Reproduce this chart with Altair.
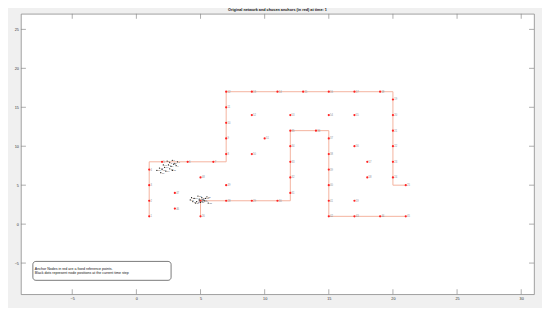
import altair as alt
import pandas as pd

title_text = "Original network and chosen anchors (in red) at time: 1"
note_lines = ["Anchor Nodes in red are a fixed reference points.",
              "Black dots represent node positions at the current time step"]

x_ticks = [-5, 0, 5, 10, 15, 20, 25, 30]
y_ticks = [-5, 0, 5, 10, 15, 20, 25]

# network corridors (polylines)
path1_x = [1, 1, 7, 7, 20, 20, 21]
path1_y = [1, 8, 8, 17, 17, 5, 5]
path2_x = [5, 5, 12, 12, 15, 15, 21]
path2_y = [1, 3, 3, 12, 12, 1, 1]

# anchor nodes (red)
anchor_x = [1, 1, 1, 1, 2, 4, 6, 7, 7, 7, 7, 7, 9, 11, 13, 15, 17, 19, 20, 20, 20, 20, 20, 20, 21,
            5, 5, 7, 9, 11, 12, 12, 12, 12, 12, 14, 15, 15, 15, 15, 15, 15, 17, 19, 21,
            3, 3, 5, 7, 9, 10, 9, 12, 15, 17, 17, 18, 18, 17]
anchor_y = [1, 3, 5, 7, 8, 8, 8, 9, 11, 13, 15, 17, 17, 17, 17, 17, 17, 17, 16, 14, 12, 10, 8, 6, 5,
            1, 3, 3, 3, 3, 4, 6, 8, 10, 12, 12, 11, 9, 7, 5, 3, 1, 1, 1, 1,
            2, 4, 6, 5, 9, 11, 14, 14, 14, 14, 10, 8, 6, 3]

# current node positions (black dots)
dots_x = [2.4, 2.6, 2.8, 3.0, 3.2, 2.5, 2.7, 2.9, 3.1, 2.2, 2.0, 1.8, 1.6, 2.3, 2.6, 1.9, 2.1, 2.8,
          4.2, 4.5, 4.7, 4.9, 5.1, 5.3, 5.5, 4.6, 4.8, 5.0, 5.2, 4.4, 5.4, 4.9, 5.6, 4.3]
dots_y = [8.1, 7.9, 8.2, 7.8, 8.0, 7.6, 7.4, 7.7, 7.5, 7.3, 7.0, 7.2, 6.9, 6.8, 7.1, 6.6, 7.6, 6.9,
          3.1, 3.3, 2.9, 3.2, 3.4, 3.0, 3.5, 2.7, 3.6, 2.8, 3.1, 2.9, 3.3, 3.0, 2.7, 3.4]

W, H = 516, 282
FONT = "Liberation Sans"
AX = "#8a8a8a"

xscale = alt.Scale(domain=[-9, 31], nice=False, zero=False)
yscale = alt.Scale(domain=[-9, 27], nice=False, zero=False)
xaxis = alt.Axis(values=x_ticks, title=None, grid=False, domain=False, ticks=False, tickSize=0,
                 labelFontSize=3.8, labelColor="#333333", labelPadding=2, labelFont=FONT)
yaxis = alt.Axis(values=y_ticks, title=None, grid=False, domain=False, ticks=False, tickSize=0,
                 labelFontSize=3.8, labelColor="#333333", labelPadding=2.5, labelFont=FONT)


def X(f):
    return alt.X(f, type="quantitative", scale=xscale, axis=xaxis)


def Y(f):
    return alt.Y(f, type="quantitative", scale=yscale, axis=yaxis)


paths = pd.DataFrame({
    "x": path1_x + path2_x,
    "y": path1_y + path2_y,
    "p": [1] * len(path1_x) + [2] * len(path2_x),
    "o": list(range(len(path1_x))) + list(range(len(path2_x))),
})
anchors = pd.DataFrame({"x": anchor_x, "y": anchor_y,
                        "id": [str(i + 1) for i in range(len(anchor_x))]})
dots = pd.DataFrame({"x": dots_x, "y": dots_y,
                     "id": [str(i + 1) for i in range(len(dots_x))]})
xt = pd.DataFrame({"x": x_ticks})
yt = pd.DataFrame({"y": y_ticks})

lines = alt.Chart(paths).mark_line(color="#f4b29e", strokeWidth=1).encode(
    x=X("x"), y=Y("y"), detail="p:N", order="o:Q")

anchor_pts = alt.Chart(anchors).mark_point(filled=True, shape="circle", size=5,
                                           color="#ff2222", opacity=1).encode(x=X("x"), y=Y("y"))
anchor_lbl = alt.Chart(anchors).mark_text(fontSize=2.6, color="#8a8f99", align="left",
                                          baseline="middle", dx=1.3, font=FONT).encode(
    x=X("x"), y=Y("y"), text="id:N")

dot_pts = alt.Chart(dots).mark_point(filled=True, shape="circle", size=1.6,
                                     color="#111111", opacity=1).encode(x=X("x"), y=Y("y"))
dot_lbl = alt.Chart(dots).mark_text(fontSize=2.4, color="#555555", align="left",
                                    baseline="middle", dx=1, font=FONT).encode(
    x=X("x"), y=Y("y"), text="id:N")

tb = alt.Chart(xt).mark_rule(color=AX, strokeWidth=0.7).encode(
    x=X("x"), y=alt.value(H), y2=alt.value(H - 5))
tt = alt.Chart(xt).mark_rule(color=AX, strokeWidth=0.7).encode(
    x=X("x"), y=alt.value(0), y2=alt.value(5))
tl = alt.Chart(yt).mark_rule(color=AX, strokeWidth=0.7).encode(
    y=Y("y"), x=alt.value(0), x2=alt.value(5))
tr = alt.Chart(yt).mark_rule(color=AX, strokeWidth=0.7).encode(
    y=Y("y"), x=alt.value(W), x2=alt.value(W - 5))

one = pd.DataFrame({"a": [0]})
box = alt.Chart(one).mark_rect(fill="white", stroke="#222222", strokeWidth=0.6,
                               cornerRadius=3).encode(
    x=alt.value(12), x2=alt.value(151), y=alt.value(249), y2=alt.value(268))
note_df = pd.DataFrame({"t": note_lines, "yy": [256.5, 261]})
note = alt.Chart(note_df).mark_text(fontSize=3.6, color="#111111", align="left",
                                    baseline="middle", font=FONT).encode(
    x=alt.value(14), y=alt.Y("yy:Q", scale=None, axis=None), text="t:N")

chart = alt.layer(lines, tb, tt, tl, tr, anchor_pts, anchor_lbl, dot_pts, dot_lbl, box, note).properties(
    width=W, height=H,
    title=alt.TitleParams(title_text, fontSize=3.8, fontWeight="bold", anchor="middle",
                          offset=2, color="#111111", font=FONT),
    autosize=alt.AutoSizeParams(type="none"),
    padding={"left": 13, "top": 5, "right": 8, "bottom": 13},
    background="#f0f0f0",
).configure_view(fill="white", stroke=AX, strokeWidth=0.8)

chart.save("out.html", embed_options={"renderer": "svg", "actions": False})
